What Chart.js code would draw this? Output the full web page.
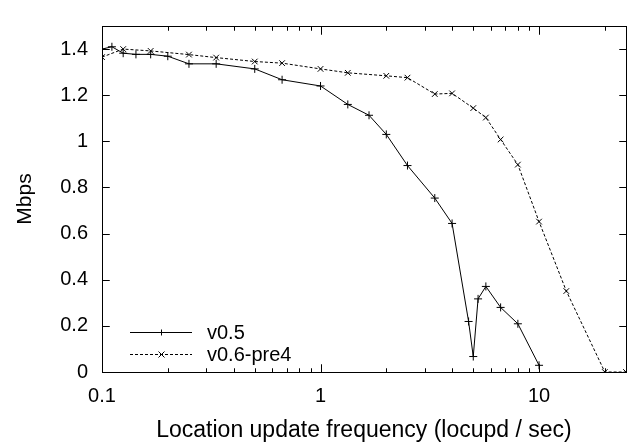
<!DOCTYPE html>
<html lang="en">
<head>
    <meta charset="UTF-8" />
    <title>Mbps vs location update frequency</title>
</head>
<body style="margin:0">
    <canvas id="bwChart" width="636" height="447"></canvas>

    <script src="https://cdn.jsdelivr.net/npm/chart.js@4.4.1/dist/chart.umd.min.js"></script>
    <script>
        // data
        const freqV05 = [0.1, 0.111, 0.125, 0.143, 0.167, 0.2, 0.25, 0.333, 0.5, 0.667, 1, 1.333, 1.667, 2, 2.5, 3.333, 4, 4.76, 5, 5.26, 5.71, 6.67, 8, 10];
        const mbpsV05 = [1.40, 1.41, 1.382, 1.377, 1.377, 1.369, 1.336, 1.336, 1.314, 1.267, 1.24, 1.16, 1.113, 1.03, 0.895, 0.754, 0.644, 0.219, 0.067, 0.317, 0.371, 0.28, 0.209, 0.029];

        const freqV06 = [0.1, 0.125, 0.167, 0.25, 0.333, 0.5, 0.667, 1, 1.333, 2, 2.5, 3.333, 4, 5, 5.71, 6.67, 8, 10, 13.33, 20, 25];
        const mbpsV06 = [1.365, 1.40, 1.392, 1.376, 1.363, 1.346, 1.339, 1.314, 1.297, 1.284, 1.276, 1.205, 1.208, 1.144, 1.103, 1.008, 0.899, 0.652, 0.351, 0, 0];

        const seriesNames = ["v0.5", "v0.6-pre4"];

        const xTicks = [0.1, 0.2, 0.3, 0.4, 0.5, 0.6, 0.7, 0.8, 0.9, 1, 2, 3, 4, 5, 6, 7, 8, 9, 10, 20];
        const xLabels = [0.1, 1, 10];
        const yTicks = [0, 0.2, 0.4, 0.6, 0.8, 1, 1.2, 1.4];

        const FONT = "'Liberation Sans', Arial, Helvetica, sans-serif";
        Chart.defaults.color = '#000';
        Chart.defaults.font.family = FONT;

        function pairs(xs, ys) {
            return xs.map((x, i) => ({ x: x, y: ys[i] }));
        }

        // box with inward ticks on all four sides, gnuplot style
        function drawFrame(chart) {
            const c = chart.ctx;
            const a = chart.chartArea;
            const xs = chart.scales.x;
            const ys = chart.scales.y;
            const L = Math.round(a.left) + 0.5, R = Math.round(a.right) + 0.5;
            const T = Math.round(a.top) + 0.5, B = Math.round(a.bottom) + 0.5;
            c.save();
            c.setLineDash([]);
            c.strokeStyle = 'rgb(0,0,0)';
            c.lineWidth = 1;
            c.strokeRect(L, T, R - L, B - T);
            c.beginPath();
            xTicks.forEach(v => {
                const px = Math.round(xs.getPixelForValue(v)) + 0.5;
                const len = xLabels.includes(v) ? 8 : 4;
                c.moveTo(px, B); c.lineTo(px, B - len);
                c.moveTo(px, T); c.lineTo(px, T + len);
            });
            yTicks.forEach(v => {
                const py = Math.round(ys.getPixelForValue(v)) + 0.5;
                c.moveTo(L, py); c.lineTo(L + 7, py);
                c.moveTo(R, py); c.lineTo(R - 7, py);
            });
            c.stroke();
            c.restore();
        }

        // key in the lower left corner: sample line, marker, label
        function drawKey(chart) {
            const c = chart.ctx;
            const a = chart.chartArea;
            c.save();
            c.font = '20px ' + FONT;
            c.textBaseline = 'middle';
            c.fillStyle = '#000';
            c.strokeStyle = '#000';
            c.lineWidth = 1;
            chart.data.datasets.forEach((ds, i) => {
                const y = Math.round(a.bottom - 40 + i * 22) + 0.5;
                const x0 = a.left + 28, x1 = a.left + 90, xm = Math.round((x0 + x1) / 2) + 0.5;
                c.setLineDash(ds.borderDash || []);
                c.beginPath(); c.moveTo(x0, y); c.lineTo(x1, y); c.stroke();
                c.setLineDash([]);
                c.beginPath();
                if (ds.pointStyle === 'cross') {
                    c.moveTo(xm, y - 3); c.lineTo(xm, y + 3);
                } else {
                    c.moveTo(xm - 3, y - 3); c.lineTo(xm + 3, y + 3);
                    c.moveTo(xm - 3, y + 3); c.lineTo(xm + 3, y - 3);
                }
                c.stroke();
                c.fillText(ds.label, a.left + 105, y + 1);
            });
            c.restore();
        }

        const gnuFrame = {
            id: 'gnuFrame',
            beforeDatasetsDraw(chart) { drawFrame(chart); },
            afterDraw(chart) {
                drawFrame(chart);
                drawKey(chart);
            }
        };

        new Chart(document.getElementById('bwChart'), {
            type: 'line',
            data: {
                datasets: [{
                    label: seriesNames[0],
                    data: pairs(freqV05, mbpsV05),
                    borderColor: '#000',
                    borderWidth: 1,
                    pointStyle: 'cross',
                    pointRadius: 4,
                    tension: 0
                }, {
                    label: seriesNames[1],
                    data: pairs(freqV06, mbpsV06),
                    borderColor: '#000',
                    borderWidth: 1,
                    borderDash: [3, 2],
                    pointStyle: 'crossRot',
                    pointRadius: 4,
                    tension: 0
                }]
            },
            options: {
                responsive: false,
                animation: false,
                layout: { padding: { top: 4, right: 10, left: 0, bottom: 0 } },
                plugins: { legend: { display: false }, tooltip: { enabled: false } },
                scales: {
                    x: {
                        type: 'logarithmic',
                        min: 0.1,
                        max: 25,
                        grid: { display: false, drawTicks: false },
                        border: { display: true, color: '#000', width: 1 },
                        afterBuildTicks: s => { s.ticks = xTicks.map(v => ({ value: v })); },
                        afterFit: s => { s.height = 75; },
                        ticks: {
                            autoSkip: false,
                            maxRotation: 0,
                            padding: 12,
                            font: { size: 20 },
                            callback: v => xLabels.includes(v) ? String(v) : ''
                        },
                        title: {
                            display: true,
                            text: 'Location update frequency (locupd / sec)',
                            font: { size: 23 },
                            padding: { top: 0, bottom: 3 }
                        }
                    },
                    y: {
                        min: 0,
                        max: 1.5,
                        grid: { display: false, drawTicks: false },
                        border: { display: true, color: '#000', width: 1 },
                        afterBuildTicks: s => { s.ticks = yTicks.map(v => ({ value: v })); },
                        afterFit: s => { s.width = 102; },
                        ticks: {
                            padding: 14,
                            font: { size: 20 },
                            callback: v => String(v)
                        },
                        title: {
                            display: true,
                            text: 'Mbps',
                            font: { size: 21 },
                            padding: { top: 13, bottom: 0 }
                        }
                    }
                }
            },
            plugins: [gnuFrame]
        });
    </script>
</body>
</html>
